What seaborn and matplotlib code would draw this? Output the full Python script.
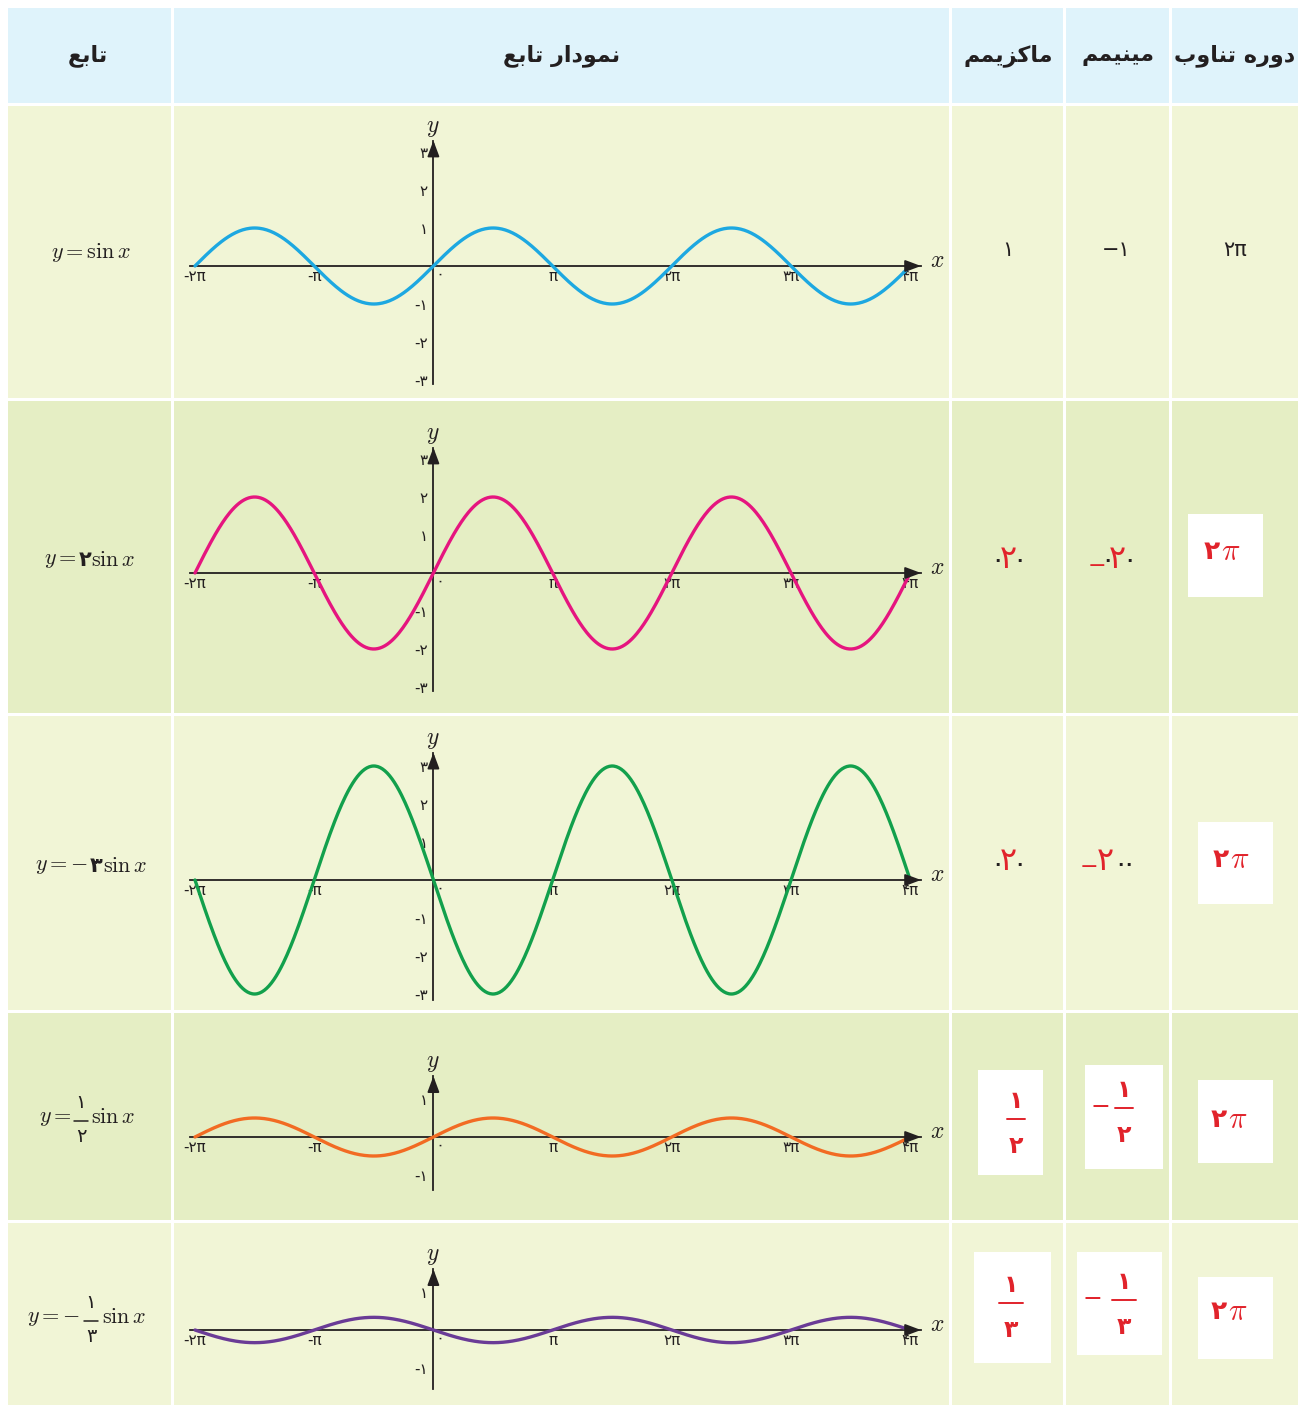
import numpy as np
import pandas as pd
import matplotlib
matplotlib.use('Agg')
import matplotlib.pyplot as plt
import seaborn as sns
from matplotlib.patches import Rectangle

sns.set_style('white')
plt.rcParams['font.family'] = ['DejaVu Sans']
plt.rcParams['mathtext.fontset'] = 'cm'

W, H = 1301, 1407

headers = ['تابع', 'نمودار تابع', 'ماکزیمم', 'مینیمم', 'دوره تناوب']
amplitudes = [1, 2, -3, 1 / 2, -1 / 3]
curve_colors = ['#1DA8E1', '#E5157F', '#12A04C', '#F26B23', '#6A3B96']
x_ticks = [-2, -1, 1, 2, 3, 4]          # multiples of pi
x_tick_labels = ['-۲π', '-π', 'π', '۲π', '۳π', '۴π']
y_ticks_big = [-3, -2, -1, 1, 2, 3]
y_labels_big = ['-۳', '-۲', '-۱', '۱', '۲', '۳']
y_ticks_small = [-1, 1]
y_labels_small = ['-۱', '۱']
big_scale_rows = [True, True, True, False, False]
row1_max, row1_min, row1_period = '۱', '−۱', '۲π'
fraction_dens = ['۲', '۳']              # rows 4 and 5

RED = '#E1232B'
INK = '#231F20'

# ---- tiny arabic shaper (matplotlib has no complex text layout) ----
AR_FORMS = {  # isolated, final, (initial, medial)
    'ا': ('\uFE8D', '\uFE8E'), 'د': ('\uFEA9', '\uFEAA'),
    'ر': ('\uFEAD', '\uFEAE'), 'ز': ('\uFEAF', '\uFEB0'),
    'و': ('\uFEED', '\uFEEE'),
    'ب': ('\uFE8F', '\uFE90', '\uFE91', '\uFE92'),
    'ت': ('\uFE95', '\uFE96', '\uFE97', '\uFE98'),
    'ع': ('\uFEC9', '\uFECA', '\uFECB', '\uFECC'),
    'م': ('\uFEE1', '\uFEE2', '\uFEE3', '\uFEE4'),
    'ن': ('\uFEE5', '\uFEE6', '\uFEE7', '\uFEE8'),
    'ه': ('\uFEE9', '\uFEEA', '\uFEEB', '\uFEEC'),
    '\u06A9': ('\uFB8E', '\uFB8F', '\uFB90', '\uFB91'),
    '\u0643': ('\uFED9', '\uFEDA', '\uFEDB', '\uFEDC'),
    '\u06CC': ('\uFBFC', '\uFBFD', '\uFBFE', '\uFBFF'),
    '\u064A': ('\uFEF1', '\uFEF2', '\uFEF3', '\uFEF4'),
}


def shape_fa(s):
    out = []
    for i, ch in enumerate(s):
        f = AR_FORMS.get(ch)
        if f is None:
            out.append(ch)
            continue
        prev = s[i - 1] if i > 0 else ''
        nxt = s[i + 1] if i + 1 < len(s) else ''
        j_prev = prev in AR_FORMS and len(AR_FORMS[prev]) == 4
        j_next = len(f) == 4 and nxt in AR_FORMS
        if j_prev and j_next:
            out.append(f[3])
        elif j_prev:
            out.append(f[1])
        elif j_next:
            out.append(f[2])
        else:
            out.append(f[0])
    return ''.join(reversed(out))


# ---- layout (pixels) ----
cols = [(8, 171), (174, 949), (952, 1063), (1066, 1169), (1172, 1298)]
rows = [(8, 103), (106, 398), (401, 713), (716, 1010), (1013, 1220), (1223, 1405)]
row_fill = ['#DFF3FB', '#F1F5D6', '#E5EEC4', '#F1F5D6', '#E5EEC4', '#F1F5D6']

fig = plt.figure(figsize=(W / 100, H / 100), dpi=100)
fig.patch.set_facecolor('white')
bg = fig.add_axes([0, 0, 1, 1])
bg.set_xlim(0, W)
bg.set_ylim(H, 0)
bg.axis('off')

for (r0, r1), fc in zip(rows, row_fill):
    for c0, c1 in cols:
        bg.add_patch(Rectangle((c0, r0), c1 - c0, r1 - r0, facecolor=fc, edgecolor='none'))

header_x = [88, 562, 1008, 1118, 1235]
for cx, h in zip(header_x, headers):
    bg.text(cx, 56, shape_fa(h), ha='center', va='center', fontsize=16,
            fontweight='bold', color=INK)

# ---- graphs ----
px_pi = 119.2
x_left_px, x_right_px, origin_px = 190, 921, 195 + 2 * 119.2
unit = 38
axis_y = [266, 573, 880, 1137, 1330]
y_top = [3.3, 3.3, 3.35, 1.6, 1.6]
y_bot = [-3.1, -3.1, -3.15, -1.4, -1.55]

xs = np.linspace(-2 * np.pi, 4 * np.pi, 600)
for i, amp in enumerate(amplitudes):
    ay = axis_y[i]
    top_px = ay - y_top[i] * unit
    bot_px = ay - y_bot[i] * unit
    ax = fig.add_axes([x_left_px / W, 1 - bot_px / H,
                       (x_right_px - x_left_px) / W, (bot_px - top_px) / H])
    ax.patch.set_alpha(0)
    xlo = (x_left_px - origin_px) / px_pi * np.pi
    xhi = (x_right_px - origin_px) / px_pi * np.pi
    ax.set_xlim(xlo, xhi)
    ax.set_ylim(y_bot[i], y_top[i])

    df = pd.DataFrame({'x': xs, 'y': amp * np.sin(xs)})
    sns.lineplot(data=df, x='x', y='y', color=curve_colors[i], lw=2.4, ax=ax, zorder=3)

    for side in ['top', 'right']:
        ax.spines[side].set_visible(False)
    for side in ['left', 'bottom']:
        ax.spines[side].set_position(('data', 0))
        ax.spines[side].set_color(INK)
        ax.spines[side].set_linewidth(1.3)
        ax.spines[side].set_zorder(2)
    ax.set_xlabel('')
    ax.set_ylabel('')
    ax.set_xticks(np.array(x_ticks) * np.pi, x_tick_labels)
    if big_scale_rows[i]:
        ax.set_yticks(y_ticks_big, y_labels_big)
    else:
        ax.set_yticks(y_ticks_small, y_labels_small)
    ax.tick_params(axis='x', direction='inout', length=4, width=1, pad=0,
                   labelsize=11, colors=INK)
    ax.tick_params(axis='y', direction='out', length=3, width=1, pad=1,
                   labelsize=11, colors=INK)
    ax.grid(False)

    arrow = dict(arrowstyle='-|>,head_length=0.8,head_width=0.3', color=INK,
                 lw=1.3, mutation_scale=12, shrinkA=0, shrinkB=0)
    ax.annotate('', xy=(xhi, 0), xytext=(xhi - 0.3, 0), arrowprops=arrow,
                annotation_clip=False)
    ax.annotate('', xy=(0, y_top[i]), xytext=(0, y_top[i] - 0.3), arrowprops=arrow,
                annotation_clip=False)

    bg.text(930, ay - 6, '$x$', fontsize=17, ha='left', va='center', color=INK)
    bg.text(433, top_px - 14, '$y$', fontsize=17, ha='center', va='center', color=INK)
    bg.text(440, ay + 8, '۰', fontsize=12, ha='center', va='center', color=INK)

# ---- function column ----
FS = 16
bg.text(91, 253, r'$y=\sin x$', fontsize=FS, ha='center', va='center', color=INK)

bg.text(77, 560, r'$y=$', fontsize=FS, ha='right', va='center', color=INK)
bg.text(85, 560, '۲', fontsize=15, fontweight='bold', ha='center', va='center', color=INK)
bg.text(91, 560, r'$\sin x$', fontsize=FS, ha='left', va='center', color=INK)

bg.text(88, 866, r'$y=-$', fontsize=FS, ha='right', va='center', color=INK)
bg.text(96, 866, '۳', fontsize=15, fontweight='bold', ha='center', va='center', color=INK)
bg.text(103, 866, r'$\sin x$', fontsize=FS, ha='left', va='center', color=INK)

for cy, lead, xr, fx, sx, den in [(1118, r'$y=$', 72, 81, 91, fraction_dens[0]),
                                  (1318, r'$y=-$', 80, 91, 102, fraction_dens[1])]:
    bg.text(xr, cy, lead, fontsize=FS, ha='right', va='center', color=INK)
    bg.text(fx, cy - 15, '۱', fontsize=14, ha='center', va='center', color=INK)
    bg.plot([fx - 7, fx + 7], [cy + 3, cy + 3], color=INK, lw=1.1)
    bg.text(fx, cy + 18, den, fontsize=14, ha='center', va='center', color=INK)
    bg.text(sx, cy - 1, r'$\sin x$', fontsize=FS, ha='left', va='center', color=INK)

# ---- max / min / period columns ----
bg.text(1008, 250, row1_max, fontsize=15, ha='center', va='center', color=INK)
bg.text(1116, 250, row1_min, fontsize=15, ha='center', va='center', color=INK)
bg.text(1235, 250, row1_period, fontsize=15, ha='center', va='center', color=INK)


def dot(x, y):
    bg.text(x, y, '·', fontsize=12, ha='center', va='center', color=INK, fontweight='bold')


def red(x, y, s, fs=23):
    bg.text(x, y, s, fontsize=fs, ha='center', va='center', color=RED)


# row 2
dot(997, 562); red(1008, 559, '۲'); dot(1019, 562)
red(1097, 566, '−', 16); dot(1107, 562); red(1117, 559, '۲'); dot(1129, 562)
# row 3
dot(997, 866); red(1008, 861, '۲'); dot(1019, 866)
red(1089, 867, '−', 16); red(1105, 861, '۲'); dot(1120, 866); dot(1128, 866)


def box(x0, y0, x1, y1):
    bg.add_patch(Rectangle((x0, y0), x1 - x0, y1 - y0, facecolor='white', edgecolor='none'))


def period(x0, y0, x1, y1, cx, cy):
    box(x0, y0, x1, y1)
    bg.text(cx - 2, cy, '۲', fontsize=19, fontweight='bold', ha='right', va='center', color=RED)
    bg.text(cx - 1, cy - 1, r'$\pi$', fontsize=22, ha='left', va='center', color=RED)


def frac(cx, bar_y, den, half, minus_x=None, minus_y=None):
    bg.text(cx, bar_y - 18, '۱', fontsize=17, fontweight='bold', ha='center', va='center', color=RED)
    bg.plot([cx - half, cx + half], [bar_y, bar_y], color=RED, lw=1.4)
    bg.text(cx, bar_y + 27, den, fontsize=17, fontweight='bold', ha='center', va='center', color=RED)
    if minus_x is not None:
        bg.text(minus_x, minus_y, '−', fontsize=17, ha='center', va='center', color=RED)


period(1188, 514, 1263, 597, 1222, 552)
period(1198, 822, 1273, 904, 1231, 860)

box(978, 1070, 1043, 1175)
frac(1016, 1119, fraction_dens[0], 9)
box(1085, 1065, 1163, 1169)
frac(1124, 1108, fraction_dens[0], 9, 1100, 1107)
period(1198, 1080, 1273, 1163, 1229, 1120)

box(974, 1252, 1051, 1363)
frac(1011, 1303, fraction_dens[1], 12)
box(1077, 1252, 1162, 1355)
frac(1124, 1300, fraction_dens[1], 12, 1092, 1299)
period(1198, 1277, 1273, 1359, 1229, 1312)

fig.savefig('out.png', dpi=100, facecolor='white')
